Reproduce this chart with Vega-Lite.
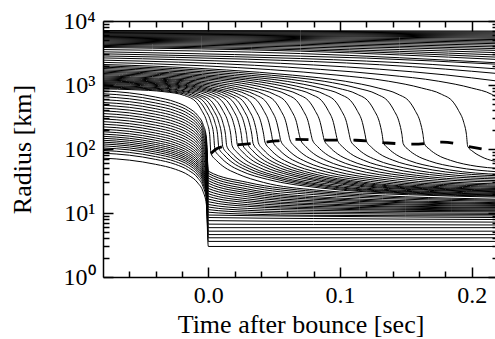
{
"$schema": "https://vega.github.io/schema/vega-lite/v6.json",
"width": 395, "height": 256,
"autosize": {"type": "none"},
"padding": {"left": 103, "top": 21, "right": 0, "bottom": 62},
"background": "white",
"datasets": {
"shock": [
{"t":0.002,"r":85},{"t":0.006,"r":100},{"t":0.012,"r":110},{"t":0.02,"r":116},{"t":0.03,"r":120},{"t":0.045,"r":129},{"t":0.066,"r":141},{"t":0.09,"r":138},{"t":0.112,"r":137},{"t":0.134,"r":125},{"t":0.156,"r":119},{"t":0.178,"r":128},{"t":0.2,"r":107},{"t":0.22,"r":90}
],
"shells": [
{"s":"a1","t":-0.08,"r":72},{"s":"a1","t":-0.06,"r":67},{"s":"a1","t":-0.04,"r":57.6},{"s":"a1","t":-0.025,"r":48.2},{"s":"a1","t":-0.015,"r":38.9},{"s":"a1","t":-0.008,"r":29.5},{"s":"a1","t":-0.004,"r":21.6},{"s":"a1","t":-0.0015,"r":13.7},{"s":"a1","t":0,"r":3.0},{"s":"a1","t":0.22,"r":3.0},
{"s":"a2","t":-0.08,"r":86},{"s":"a2","t":-0.06,"r":80},{"s":"a2","t":-0.04,"r":68.8},{"s":"a2","t":-0.025,"r":57.6},{"s":"a2","t":-0.015,"r":46.4},{"s":"a2","t":-0.008,"r":35.3},{"s":"a2","t":-0.004,"r":25.8},{"s":"a2","t":-0.0015,"r":16.3},{"s":"a2","t":0,"r":3.6},{"s":"a2","t":0.22,"r":3.6},
{"s":"a3","t":-0.08,"r":95},{"s":"a3","t":-0.06,"r":88.4},{"s":"a3","t":-0.04,"r":76},{"s":"a3","t":-0.025,"r":63.7},{"s":"a3","t":-0.015,"r":51.3},{"s":"a3","t":-0.008,"r":39},{"s":"a3","t":-0.004,"r":28.5},{"s":"a3","t":-0.0015,"r":18},{"s":"a3","t":0,"r":4.1},{"s":"a3","t":0.22,"r":4.1},
{"s":"a4","t":-0.08,"r":104},{"s":"a4","t":-0.06,"r":96.7},{"s":"a4","t":-0.04,"r":83.2},{"s":"a4","t":-0.025,"r":69.7},{"s":"a4","t":-0.015,"r":56.2},{"s":"a4","t":-0.008,"r":42.6},{"s":"a4","t":-0.004,"r":31.2},{"s":"a4","t":-0.0015,"r":19.8},{"s":"a4","t":0,"r":4.6},{"s":"a4","t":0.22,"r":4.6},
{"s":"a5","t":-0.08,"r":112},{"s":"a5","t":-0.06,"r":104},{"s":"a5","t":-0.04,"r":89.6},{"s":"a5","t":-0.025,"r":75},{"s":"a5","t":-0.015,"r":60.5},{"s":"a5","t":-0.008,"r":45.9},{"s":"a5","t":-0.004,"r":33.6},{"s":"a5","t":-0.0015,"r":21.3},{"s":"a5","t":0,"r":5.2},{"s":"a5","t":0.22,"r":5.2},
{"s":"a6","t":-0.08,"r":120},{"s":"a6","t":-0.06,"r":111.6},{"s":"a6","t":-0.04,"r":96},{"s":"a6","t":-0.025,"r":80.4},{"s":"a6","t":-0.015,"r":64.8},{"s":"a6","t":-0.008,"r":49.2},{"s":"a6","t":-0.004,"r":36},{"s":"a6","t":-0.0015,"r":22.8},{"s":"a6","t":0,"r":5.9},{"s":"a6","t":0.22,"r":5.9},
{"s":"a7","t":-0.08,"r":128},{"s":"a7","t":-0.06,"r":119},{"s":"a7","t":-0.04,"r":102.4},{"s":"a7","t":-0.025,"r":85.8},{"s":"a7","t":-0.015,"r":69.1},{"s":"a7","t":-0.008,"r":52.5},{"s":"a7","t":-0.004,"r":38.4},{"s":"a7","t":-0.0015,"r":24.3},{"s":"a7","t":0,"r":6.7},{"s":"a7","t":0.08,"r":6.6},{"s":"a7","t":0.22,"r":6.5},
{"s":"a8","t":-0.08,"r":137},{"s":"a8","t":-0.06,"r":127.4},{"s":"a8","t":-0.04,"r":109.6},{"s":"a8","t":-0.025,"r":91.8},{"s":"a8","t":-0.015,"r":74},{"s":"a8","t":-0.008,"r":56.2},{"s":"a8","t":-0.004,"r":41.1},{"s":"a8","t":-0.0015,"r":26},{"s":"a8","t":0,"r":7.6},{"s":"a8","t":0.08,"r":7.4},{"s":"a8","t":0.22,"r":7.2},
{"s":"a9","t":-0.08,"r":147},{"s":"a9","t":-0.06,"r":136.7},{"s":"a9","t":-0.04,"r":117.6},{"s":"a9","t":-0.025,"r":98.5},{"s":"a9","t":-0.015,"r":79.4},{"s":"a9","t":-0.008,"r":60.3},{"s":"a9","t":-0.004,"r":44.1},{"s":"a9","t":-0.0015,"r":27.9},{"s":"a9","t":0,"r":8.5},{"s":"a9","t":0.08,"r":8.2},{"s":"a9","t":0.22,"r":7.9},
{"s":"a10","t":-0.08,"r":158},{"s":"a10","t":-0.06,"r":147},{"s":"a10","t":-0.04,"r":126.4},{"s":"a10","t":-0.025,"r":105.9},{"s":"a10","t":-0.015,"r":85.3},{"s":"a10","t":-0.008,"r":64.8},{"s":"a10","t":-0.004,"r":47.4},{"s":"a10","t":-0.0015,"r":30},{"s":"a10","t":0,"r":9.3},{"s":"a10","t":0.08,"r":8.9},{"s":"a10","t":0.22,"r":8.5},
{"s":"a11","t":-0.08,"r":171},{"s":"a11","t":-0.06,"r":159},{"s":"a11","t":-0.04,"r":136.8},{"s":"a11","t":-0.025,"r":114.6},{"s":"a11","t":-0.015,"r":92.3},{"s":"a11","t":-0.008,"r":70.1},{"s":"a11","t":-0.004,"r":51.3},{"s":"a11","t":-0.0015,"r":32.5},{"s":"a11","t":0,"r":10.3},{"s":"a11","t":0.03,"r":9.6},{"s":"a11","t":0.08,"r":9.2},{"s":"a11","t":0.22,"r":9.0},
{"s":"a12","t":-0.08,"r":186},{"s":"a12","t":-0.06,"r":173},{"s":"a12","t":-0.04,"r":148.8},{"s":"a12","t":-0.025,"r":124.6},{"s":"a12","t":-0.015,"r":100.4},{"s":"a12","t":-0.008,"r":76.3},{"s":"a12","t":-0.004,"r":55.8},{"s":"a12","t":-0.0015,"r":35.3},{"s":"a12","t":0,"r":11.3},{"s":"a12","t":0.03,"r":10.3},{"s":"a12","t":0.08,"r":9.8},{"s":"a12","t":0.22,"r":9.5},
{"s":"a13","t":-0.08,"r":203},{"s":"a13","t":-0.06,"r":188.8},{"s":"a13","t":-0.04,"r":162.4},{"s":"a13","t":-0.025,"r":136},{"s":"a13","t":-0.015,"r":109.6},{"s":"a13","t":-0.008,"r":83.2},{"s":"a13","t":-0.004,"r":60.9},{"s":"a13","t":-0.0015,"r":38.6},{"s":"a13","t":0,"r":12.4},{"s":"a13","t":0.03,"r":11.0},{"s":"a13","t":0.08,"r":10.35},{"s":"a13","t":0.22,"r":9.9},
{"s":"a14","t":-0.08,"r":222},{"s":"a14","t":-0.06,"r":206.5},{"s":"a14","t":-0.04,"r":177.6},{"s":"a14","t":-0.025,"r":148.7},{"s":"a14","t":-0.015,"r":119.9},{"s":"a14","t":-0.008,"r":91},{"s":"a14","t":-0.004,"r":66.6},{"s":"a14","t":-0.0015,"r":42.2},{"s":"a14","t":0,"r":13.6},{"s":"a14","t":0.03,"r":11.8},{"s":"a14","t":0.08,"r":11.0},{"s":"a14","t":0.22,"r":10.4},
{"s":"a15","t":-0.08,"r":244},{"s":"a15","t":-0.06,"r":227},{"s":"a15","t":-0.04,"r":195.2},{"s":"a15","t":-0.025,"r":163.5},{"s":"a15","t":-0.015,"r":131.8},{"s":"a15","t":-0.008,"r":100},{"s":"a15","t":-0.004,"r":73.2},{"s":"a15","t":-0.0015,"r":46.4},{"s":"a15","t":0,"r":15.0},{"s":"a15","t":0.03,"r":12.7},{"s":"a15","t":0.08,"r":11.6},{"s":"a15","t":0.22,"r":10.8},
{"s":"a16","t":-0.08,"r":268},{"s":"a16","t":-0.06,"r":249},{"s":"a16","t":-0.04,"r":214.4},{"s":"a16","t":-0.025,"r":179.6},{"s":"a16","t":-0.015,"r":144.7},{"s":"a16","t":-0.008,"r":109.9},{"s":"a16","t":-0.004,"r":80.4},{"s":"a16","t":-0.0015,"r":50.9},{"s":"a16","t":0,"r":16.5},{"s":"a16","t":0.03,"r":13.5},{"s":"a16","t":0.08,"r":12.1},{"s":"a16","t":0.22,"r":11.1},
{"s":"a17","t":-0.08,"r":295},{"s":"a17","t":-0.06,"r":274},{"s":"a17","t":-0.04,"r":236},{"s":"a17","t":-0.025,"r":197.7},{"s":"a17","t":-0.015,"r":159.3},{"s":"a17","t":-0.008,"r":121},{"s":"a17","t":-0.004,"r":88.5},{"s":"a17","t":-0.0015,"r":56},{"s":"a17","t":0,"r":18.2},{"s":"a17","t":0.03,"r":14.5},{"s":"a17","t":0.08,"r":12.7},{"s":"a17","t":0.22,"r":11.5},
{"s":"a18","t":-0.08,"r":325},{"s":"a18","t":-0.06,"r":302},{"s":"a18","t":-0.04,"r":260},{"s":"a18","t":-0.025,"r":217.8},{"s":"a18","t":-0.015,"r":175.5},{"s":"a18","t":-0.008,"r":133},{"s":"a18","t":-0.004,"r":97.5},{"s":"a18","t":-0.0015,"r":61.8},{"s":"a18","t":0,"r":20.0},{"s":"a18","t":0.03,"r":15.5},{"s":"a18","t":0.08,"r":13.4},{"s":"a18","t":0.22,"r":11.9},
{"s":"a19","t":-0.08,"r":358},{"s":"a19","t":-0.06,"r":333},{"s":"a19","t":-0.04,"r":286.4},{"s":"a19","t":-0.025,"r":239.9},{"s":"a19","t":-0.015,"r":193.3},{"s":"a19","t":-0.008,"r":146.8},{"s":"a19","t":-0.004,"r":107.4},{"s":"a19","t":-0.0015,"r":68},{"s":"a19","t":0,"r":22.0},{"s":"a19","t":0.03,"r":16.6},{"s":"a19","t":0.08,"r":14.0},{"s":"a19","t":0.22,"r":12.2},
{"s":"a20","t":-0.08,"r":395},{"s":"a20","t":-0.06,"r":367},{"s":"a20","t":-0.04,"r":316},{"s":"a20","t":-0.025,"r":264.7},{"s":"a20","t":-0.015,"r":213.3},{"s":"a20","t":-0.008,"r":162},{"s":"a20","t":-0.004,"r":118.5},{"s":"a20","t":-0.0015,"r":75},{"s":"a20","t":0,"r":24.2},{"s":"a20","t":0.03,"r":17.9},{"s":"a20","t":0.08,"r":14.8},{"s":"a20","t":0.22,"r":12.7},
{"s":"a21","t":-0.08,"r":436},{"s":"a21","t":-0.06,"r":405},{"s":"a21","t":-0.04,"r":348.8},{"s":"a21","t":-0.025,"r":292},{"s":"a21","t":-0.015,"r":235.4},{"s":"a21","t":-0.008,"r":178.8},{"s":"a21","t":-0.004,"r":130.8},{"s":"a21","t":-0.0015,"r":82.8},{"s":"a21","t":0,"r":26.6},{"s":"a21","t":0.03,"r":19.2},{"s":"a21","t":0.08,"r":15.5},{"s":"a21","t":0.22,"r":13.1},
{"s":"a22","t":-0.08,"r":482},{"s":"a22","t":-0.06,"r":448},{"s":"a22","t":-0.04,"r":385.6},{"s":"a22","t":-0.025,"r":323},{"s":"a22","t":-0.015,"r":260.3},{"s":"a22","t":-0.008,"r":197.6},{"s":"a22","t":-0.004,"r":144.6},{"s":"a22","t":-0.0015,"r":91.6},{"s":"a22","t":0,"r":29.2},{"s":"a22","t":0.03,"r":20.6},{"s":"a22","t":0.08,"r":16.4},{"s":"a22","t":0.22,"r":13.6},
{"s":"a23","t":-0.08,"r":533},{"s":"a23","t":-0.06,"r":496},{"s":"a23","t":-0.04,"r":426.4},{"s":"a23","t":-0.025,"r":357},{"s":"a23","t":-0.015,"r":287.8},{"s":"a23","t":-0.008,"r":218.5},{"s":"a23","t":-0.004,"r":160},{"s":"a23","t":-0.0015,"r":101.3},{"s":"a23","t":0,"r":32.0},{"s":"a23","t":0.03,"r":22.1},{"s":"a23","t":0.08,"r":17.2},{"s":"a23","t":0.22,"r":14.0},
{"s":"a24","t":-0.08,"r":590},{"s":"a24","t":-0.06,"r":549},{"s":"a24","t":-0.04,"r":472},{"s":"a24","t":-0.025,"r":395.3},{"s":"a24","t":-0.015,"r":318.6},{"s":"a24","t":-0.008,"r":241.9},{"s":"a24","t":-0.004,"r":177},{"s":"a24","t":-0.0015,"r":112.1},{"s":"a24","t":0,"r":35.0},{"s":"a24","t":0.03,"r":23.7},{"s":"a24","t":0.08,"r":18.1},{"s":"a24","t":0.22,"r":14.5},
{"s":"a25","t":-0.08,"r":655},{"s":"a25","t":-0.06,"r":609},{"s":"a25","t":-0.04,"r":524},{"s":"a25","t":-0.025,"r":438.9},{"s":"a25","t":-0.015,"r":353.7},{"s":"a25","t":-0.008,"r":268.6},{"s":"a25","t":-0.004,"r":196.5},{"s":"a25","t":-0.0015,"r":124.5},{"s":"a25","t":0,"r":38.2},{"s":"a25","t":0.03,"r":25.7},{"s":"a25","t":0.08,"r":19.4},{"s":"a25","t":0.22,"r":15.2},
{"s":"a26","t":-0.08,"r":730},{"s":"a26","t":-0.06,"r":679},{"s":"a26","t":-0.04,"r":584},{"s":"a26","t":-0.025,"r":489},{"s":"a26","t":-0.015,"r":394},{"s":"a26","t":-0.008,"r":299},{"s":"a26","t":-0.004,"r":219},{"s":"a26","t":-0.0015,"r":138.7},{"s":"a26","t":0,"r":41.6},{"s":"a26","t":0.03,"r":27.8},{"s":"a26","t":0.08,"r":20.6},{"s":"a26","t":0.22,"r":15.8},
{"s":"a27","t":-0.08,"r":810},{"s":"a27","t":-0.06,"r":753},{"s":"a27","t":-0.04,"r":648},{"s":"a27","t":-0.025,"r":542.7},{"s":"a27","t":-0.015,"r":437.4},{"s":"a27","t":-0.008,"r":332},{"s":"a27","t":-0.004,"r":243},{"s":"a27","t":-0.0015,"r":154},{"s":"a27","t":0,"r":45.0},{"s":"a27","t":0.03,"r":30.0},{"s":"a27","t":0.08,"r":21.8},{"s":"a27","t":0.22,"r":16.4},
{"s":"b1","t":-0.08,"r":868},{"s":"b1","t":-0.058,"r":846},{"s":"b1","t":-0.033,"r":783},{"s":"b1","t":-0.018,"r":684},{"s":"b1","t":-0.009,"r":534},{"s":"b1","t":-0.005,"r":399},{"s":"b1","t":-0.001,"r":260},{"s":"b1","t":0.001,"r":170},{"s":"b1","t":0.002,"r":85},{"s":"b1","t":0.006,"r":66.7},{"s":"b1","t":0.012,"r":52.2},{"s":"b1","t":0.022,"r":41.0},{"s":"b1","t":0.042,"r":30.0},{"s":"b1","t":0.082,"r":22.8},{"s":"b1","t":0.152,"r":19.3},{"s":"b1","t":0.22,"r":17.7},
{"s":"b2","t":-0.08,"r":896},{"s":"b2","t":-0.055,"r":869},{"s":"b2","t":-0.03,"r":794},{"s":"b2","t":-0.015,"r":690},{"s":"b2","t":-0.006,"r":535},{"s":"b2","t":-0.002,"r":400},{"s":"b2","t":0.002,"r":260},{"s":"b2","t":0.004,"r":170},{"s":"b2","t":0.005,"r":97},{"s":"b2","t":0.009,"r":75.4},{"s":"b2","t":0.015,"r":58.4},{"s":"b2","t":0.025,"r":45.2},{"s":"b2","t":0.045,"r":33.5},{"s":"b2","t":0.085,"r":24.6},{"s":"b2","t":0.155,"r":19.9},{"s":"b2","t":0.22,"r":18.3},
{"s":"b3","t":-0.08,"r":925},{"s":"b3","t":-0.052,"r":890},{"s":"b3","t":-0.027,"r":806},{"s":"b3","t":-0.012,"r":693},{"s":"b3","t":-0.003,"r":536},{"s":"b3","t":0.001,"r":400},{"s":"b3","t":0.005,"r":260},{"s":"b3","t":0.007,"r":170},{"s":"b3","t":0.008,"r":104},{"s":"b3","t":0.012,"r":80.5},{"s":"b3","t":0.018,"r":62.1},{"s":"b3","t":0.028,"r":47.7},{"s":"b3","t":0.048,"r":35.0},{"s":"b3","t":0.088,"r":25.3},{"s":"b3","t":0.158,"r":20.3},{"s":"b3","t":0.22,"r":18.7},
{"s":"b4","t":-0.08,"r":953},{"s":"b4","t":-0.049,"r":909},{"s":"b4","t":-0.024,"r":821},{"s":"b4","t":-0.009,"r":698},{"s":"b4","t":0,"r":537},{"s":"b4","t":0.004,"r":400},{"s":"b4","t":0.008,"r":260},{"s":"b4","t":0.01,"r":170},{"s":"b4","t":0.011,"r":108},{"s":"b4","t":0.015,"r":83.5},{"s":"b4","t":0.021,"r":64.3},{"s":"b4","t":0.031,"r":49.3},{"s":"b4","t":0.051,"r":36.0},{"s":"b4","t":0.091,"r":26.0},{"s":"b4","t":0.161,"r":20.8},{"s":"b4","t":0.22,"r":19.1},
{"s":"b5","t":-0.08,"r":980},{"s":"b5","t":-0.046,"r":930},{"s":"b5","t":-0.021,"r":829},{"s":"b5","t":-0.006,"r":701},{"s":"b5","t":0.003,"r":538},{"s":"b5","t":0.007,"r":400},{"s":"b5","t":0.011,"r":260},{"s":"b5","t":0.013,"r":170},{"s":"b5","t":0.014,"r":111},{"s":"b5","t":0.018,"r":85.8},{"s":"b5","t":0.024,"r":66.0},{"s":"b5","t":0.034,"r":50.6},{"s":"b5","t":0.054,"r":36.9},{"s":"b5","t":0.094,"r":26.5},{"s":"b5","t":0.164,"r":21.2},{"s":"b5","t":0.22,"r":19.6},
{"s":"b6","t":-0.08,"r":1017},{"s":"b6","t":-0.042,"r":955},{"s":"b6","t":-0.017,"r":840},{"s":"b6","t":-0.002,"r":704},{"s":"b6","t":0.007,"r":540},{"s":"b6","t":0.011,"r":400},{"s":"b6","t":0.015,"r":260},{"s":"b6","t":0.017,"r":170},{"s":"b6","t":0.018,"r":114},{"s":"b6","t":0.022,"r":88.1},{"s":"b6","t":0.028,"r":67.8},{"s":"b6","t":0.038,"r":52.0},{"s":"b6","t":0.058,"r":37.8},{"s":"b6","t":0.098,"r":27.2},{"s":"b6","t":0.168,"r":21.7},{"s":"b6","t":0.22,"r":20.2},
{"s":"b7","t":-0.08,"r":1053},{"s":"b7","t":-0.038,"r":978},{"s":"b7","t":-0.013,"r":850},{"s":"b7","t":0.002,"r":707},{"s":"b7","t":0.011,"r":540},{"s":"b7","t":0.015,"r":400},{"s":"b7","t":0.019,"r":260},{"s":"b7","t":0.021,"r":170},{"s":"b7","t":0.022,"r":117},{"s":"b7","t":0.026,"r":90.5},{"s":"b7","t":0.032,"r":69.6},{"s":"b7","t":0.042,"r":53.3},{"s":"b7","t":0.062,"r":38.9},{"s":"b7","t":0.102,"r":28.0},{"s":"b7","t":0.172,"r":22.4},{"s":"b7","t":0.22,"r":20.9},
{"s":"b8","t":-0.08,"r":1090},{"s":"b8","t":-0.034,"r":998},{"s":"b8","t":-0.009,"r":857},{"s":"b8","t":0.006,"r":709},{"s":"b8","t":0.015,"r":540},{"s":"b8","t":0.019,"r":400},{"s":"b8","t":0.023,"r":260},{"s":"b8","t":0.025,"r":170},{"s":"b8","t":0.026,"r":118},{"s":"b8","t":0.03,"r":91.3},{"s":"b8","t":0.036,"r":70.3},{"s":"b8","t":0.046,"r":54.0},{"s":"b8","t":0.066,"r":39.4},{"s":"b8","t":0.106,"r":28.5},{"s":"b8","t":0.176,"r":22.8},{"s":"b8","t":0.22,"r":21.5},
{"s":"b9","t":-0.08,"r":1126},{"s":"b9","t":-0.07,"r":1110},{"s":"b9","t":-0.03,"r":1015},{"s":"b9","t":-0.005,"r":864},{"s":"b9","t":0.01,"r":711},{"s":"b9","t":0.019,"r":540},{"s":"b9","t":0.023,"r":400},{"s":"b9","t":0.027,"r":260},{"s":"b9","t":0.029,"r":170},{"s":"b9","t":0.03,"r":120},{"s":"b9","t":0.034,"r":92.9},{"s":"b9","t":0.04,"r":71.5},{"s":"b9","t":0.05,"r":55.0},{"s":"b9","t":0.07,"r":40.2},{"s":"b9","t":0.11,"r":29.1},{"s":"b9","t":0.18,"r":23.3},{"s":"b9","t":0.22,"r":22.1},
{"s":"b10","t":-0.08,"r":1162},{"s":"b10","t":-0.066,"r":1138},{"s":"b10","t":-0.026,"r":1030},{"s":"b10","t":-0.001,"r":869},{"s":"b10","t":0.014,"r":713},{"s":"b10","t":0.023,"r":540},{"s":"b10","t":0.027,"r":400},{"s":"b10","t":0.031,"r":260},{"s":"b10","t":0.033,"r":170},{"s":"b10","t":0.034,"r":122},{"s":"b10","t":0.038,"r":94.5},{"s":"b10","t":0.044,"r":72.8},{"s":"b10","t":0.054,"r":56.0},{"s":"b10","t":0.074,"r":41.0},{"s":"b10","t":0.114,"r":29.7},{"s":"b10","t":0.184,"r":23.8},{"s":"b10","t":0.22,"r":22.7},
{"s":"b11","t":-0.08,"r":1197},{"s":"b11","t":-0.062,"r":1165},{"s":"b11","t":-0.022,"r":1049},{"s":"b11","t":0.003,"r":875},{"s":"b11","t":0.018,"r":714},{"s":"b11","t":0.027,"r":540},{"s":"b11","t":0.031,"r":400},{"s":"b11","t":0.035,"r":260},{"s":"b11","t":0.037,"r":170},{"s":"b11","t":0.038,"r":125},{"s":"b11","t":0.042,"r":96.8},{"s":"b11","t":0.048,"r":74.5},{"s":"b11","t":0.058,"r":57.3},{"s":"b11","t":0.078,"r":41.9},{"s":"b11","t":0.118,"r":30.3},{"s":"b11","t":0.188,"r":24.3},{"s":"b11","t":0.22,"r":23.3},
{"s":"b12","t":-0.08,"r":1241},{"s":"b12","t":-0.057,"r":1196},{"s":"b12","t":-0.017,"r":1064},{"s":"b12","t":0.008,"r":879},{"s":"b12","t":0.023,"r":714},{"s":"b12","t":0.032,"r":540},{"s":"b12","t":0.036,"r":400},{"s":"b12","t":0.04,"r":260},{"s":"b12","t":0.042,"r":170},{"s":"b12","t":0.043,"r":128},{"s":"b12","t":0.047,"r":99.1},{"s":"b12","t":0.053,"r":76.4},{"s":"b12","t":0.063,"r":58.8},{"s":"b12","t":0.083,"r":43.0},{"s":"b12","t":0.123,"r":31.2},{"s":"b12","t":0.193,"r":25.0},{"s":"b12","t":0.22,"r":24.1},
{"s":"b13","t":-0.08,"r":1286},{"s":"b13","t":-0.051,"r":1226},{"s":"b13","t":-0.011,"r":1076},{"s":"b13","t":0.014,"r":883},{"s":"b13","t":0.029,"r":715},{"s":"b13","t":0.038,"r":540},{"s":"b13","t":0.042,"r":400},{"s":"b13","t":0.046,"r":260},{"s":"b13","t":0.048,"r":170},{"s":"b13","t":0.049,"r":131},{"s":"b13","t":0.053,"r":101.5},{"s":"b13","t":0.059,"r":78.3},{"s":"b13","t":0.069,"r":60.3},{"s":"b13","t":0.089,"r":44.2},{"s":"b13","t":0.129,"r":32.1},{"s":"b13","t":0.199,"r":25.8},{"s":"b13","t":0.22,"r":25.1},
{"s":"b14","t":-0.08,"r":1336},{"s":"b14","t":-0.045,"r":1256},{"s":"b14","t":-0.005,"r":1089},{"s":"b14","t":0.02,"r":886},{"s":"b14","t":0.035,"r":715},{"s":"b14","t":0.044,"r":540},{"s":"b14","t":0.048,"r":400},{"s":"b14","t":0.052,"r":260},{"s":"b14","t":0.054,"r":170},{"s":"b14","t":0.055,"r":135},{"s":"b14","t":0.059,"r":104.6},{"s":"b14","t":0.065,"r":80.7},{"s":"b14","t":0.075,"r":62.2},{"s":"b14","t":0.095,"r":45.6},{"s":"b14","t":0.135,"r":33.1},{"s":"b14","t":0.205,"r":26.6},{"s":"b14","t":0.22,"r":26.1},
{"s":"b15","t":-0.08,"r":1389},{"s":"b15","t":-0.038,"r":1280},{"s":"b15","t":0.002,"r":1098},{"s":"b15","t":0.027,"r":889},{"s":"b15","t":0.042,"r":716},{"s":"b15","t":0.051,"r":540},{"s":"b15","t":0.055,"r":400},{"s":"b15","t":0.059,"r":260},{"s":"b15","t":0.061,"r":170},{"s":"b15","t":0.062,"r":139},{"s":"b15","t":0.066,"r":107.8},{"s":"b15","t":0.072,"r":83.2},{"s":"b15","t":0.082,"r":64.0},{"s":"b15","t":0.102,"r":47.0},{"s":"b15","t":0.142,"r":34.1},{"s":"b15","t":0.212,"r":27.5},{"s":"b15","t":0.22,"r":27.2},
{"s":"b16","t":-0.08,"r":1450},{"s":"b16","t":-0.03,"r":1309},{"s":"b16","t":0.01,"r":1110},{"s":"b16","t":0.035,"r":891},{"s":"b16","t":0.05,"r":716},{"s":"b16","t":0.059,"r":540},{"s":"b16","t":0.063,"r":400},{"s":"b16","t":0.067,"r":260},{"s":"b16","t":0.069,"r":170},{"s":"b16","t":0.07,"r":141},{"s":"b16","t":0.074,"r":109.4},{"s":"b16","t":0.08,"r":84.6},{"s":"b16","t":0.09,"r":65.4},{"s":"b16","t":0.11,"r":48.2},{"s":"b16","t":0.15,"r":35.1},{"s":"b16","t":0.22,"r":28.4},
{"s":"b17","t":-0.08,"r":1512},{"s":"b17","t":-0.021,"r":1334},{"s":"b17","t":0.019,"r":1118},{"s":"b17","t":0.044,"r":893},{"s":"b17","t":0.059,"r":717},{"s":"b17","t":0.068,"r":540},{"s":"b17","t":0.072,"r":400},{"s":"b17","t":0.076,"r":260},{"s":"b17","t":0.078,"r":170},{"s":"b17","t":0.079,"r":140},{"s":"b17","t":0.083,"r":109.1},{"s":"b17","t":0.089,"r":84.7},{"s":"b17","t":0.099,"r":65.8},{"s":"b17","t":0.119,"r":48.9},{"s":"b17","t":0.159,"r":36.0},{"s":"b17","t":0.22,"r":30.3},
{"s":"b18","t":-0.08,"r":1583},{"s":"b18","t":-0.062,"r":1537},{"s":"b18","t":-0.012,"r":1354},{"s":"b18","t":0.028,"r":1125},{"s":"b18","t":0.053,"r":894},{"s":"b18","t":0.068,"r":717},{"s":"b18","t":0.077,"r":540},{"s":"b18","t":0.081,"r":400},{"s":"b18","t":0.085,"r":260},{"s":"b18","t":0.087,"r":170},{"s":"b18","t":0.088,"r":138},{"s":"b18","t":0.092,"r":107.9},{"s":"b18","t":0.098,"r":84.2},{"s":"b18","t":0.108,"r":65.8},{"s":"b18","t":0.128,"r":49.4},{"s":"b18","t":0.168,"r":36.8},{"s":"b18","t":0.22,"r":32.0},
{"s":"b19","t":-0.08,"r":1651},{"s":"b19","t":-0.052,"r":1572},{"s":"b19","t":-0.002,"r":1372},{"s":"b19","t":0.038,"r":1129},{"s":"b19","t":0.063,"r":895},{"s":"b19","t":0.078,"r":717},{"s":"b19","t":0.087,"r":540},{"s":"b19","t":0.091,"r":400},{"s":"b19","t":0.095,"r":260},{"s":"b19","t":0.097,"r":170},{"s":"b19","t":0.098,"r":138},{"s":"b19","t":0.102,"r":108.2},{"s":"b19","t":0.108,"r":84.8},{"s":"b19","t":0.118,"r":66.6},{"s":"b19","t":0.138,"r":50.3},{"s":"b19","t":0.178,"r":37.9},{"s":"b19","t":0.22,"r":34.0},
{"s":"b20","t":-0.08,"r":1725},{"s":"b20","t":-0.042,"r":1607},{"s":"b20","t":0.008,"r":1386},{"s":"b20","t":0.048,"r":1134},{"s":"b20","t":0.073,"r":895},{"s":"b20","t":0.088,"r":718},{"s":"b20","t":0.097,"r":540},{"s":"b20","t":0.101,"r":400},{"s":"b20","t":0.105,"r":260},{"s":"b20","t":0.107,"r":170},{"s":"b20","t":0.108,"r":137},{"s":"b20","t":0.112,"r":107.9},{"s":"b20","t":0.118,"r":84.9},{"s":"b20","t":0.128,"r":67.1},{"s":"b20","t":0.148,"r":51.1},{"s":"b20","t":0.188,"r":38.9},{"s":"b20","t":0.22,"r":36.0},
{"s":"b21","t":-0.08,"r":1810},{"s":"b21","t":-0.03,"r":1645},{"s":"b21","t":0.02,"r":1400},{"s":"b21","t":0.06,"r":1137},{"s":"b21","t":0.085,"r":896},{"s":"b21","t":0.1,"r":718},{"s":"b21","t":0.109,"r":540},{"s":"b21","t":0.113,"r":400},{"s":"b21","t":0.117,"r":260},{"s":"b21","t":0.119,"r":170},{"s":"b21","t":0.12,"r":134},{"s":"b21","t":0.124,"r":106.1},{"s":"b21","t":0.13,"r":84.2},{"s":"b21","t":0.14,"r":67.1},{"s":"b21","t":0.16,"r":51.8},{"s":"b21","t":0.2,"r":40.0},{"s":"b21","t":0.22,"r":38.2},
{"s":"b22","t":-0.08,"r":1894},{"s":"b22","t":-0.067,"r":1862},{"s":"b22","t":-0.017,"r":1670},{"s":"b22","t":0.033,"r":1411},{"s":"b22","t":0.073,"r":1140},{"s":"b22","t":0.098,"r":896},{"s":"b22","t":0.113,"r":718},{"s":"b22","t":0.122,"r":540},{"s":"b22","t":0.126,"r":400},{"s":"b22","t":0.13,"r":260},{"s":"b22","t":0.132,"r":170},{"s":"b22","t":0.133,"r":126},{"s":"b22","t":0.137,"r":100.8},{"s":"b22","t":0.143,"r":80.9},{"s":"b22","t":0.153,"r":65.4},{"s":"b22","t":0.173,"r":51.5},{"s":"b22","t":0.213,"r":40.8},{"s":"b22","t":0.22,"r":40.3},
{"s":"b23","t":-0.08,"r":1989},{"s":"b23","t":-0.052,"r":1902},{"s":"b23","t":-0.002,"r":1697},{"s":"b23","t":0.048,"r":1420},{"s":"b23","t":0.088,"r":1143},{"s":"b23","t":0.113,"r":896},{"s":"b23","t":0.128,"r":718},{"s":"b23","t":0.137,"r":540},{"s":"b23","t":0.141,"r":400},{"s":"b23","t":0.145,"r":260},{"s":"b23","t":0.147,"r":170},{"s":"b23","t":0.148,"r":121},{"s":"b23","t":0.152,"r":97.6},{"s":"b23","t":0.158,"r":79.3},{"s":"b23","t":0.168,"r":64.9},{"s":"b23","t":0.188,"r":52.0},{"s":"b23","t":0.22,"r":44.0},
{"s":"b24","t":-0.08,"r":2091},{"s":"b24","t":-0.036,"r":1948},{"s":"b24","t":0.014,"r":1715},{"s":"b24","t":0.064,"r":1425},{"s":"b24","t":0.104,"r":1144},{"s":"b24","t":0.129,"r":897},{"s":"b24","t":0.144,"r":718},{"s":"b24","t":0.153,"r":540},{"s":"b24","t":0.157,"r":400},{"s":"b24","t":0.161,"r":260},{"s":"b24","t":0.163,"r":170},{"s":"b24","t":0.164,"r":122},{"s":"b24","t":0.168,"r":98.9},{"s":"b24","t":0.174,"r":80.7},{"s":"b24","t":0.184,"r":66.4},{"s":"b24","t":0.204,"r":53.6},{"s":"b24","t":0.22,"r":49.7},
{"s":"b25","t":-0.08,"r":2259},{"s":"b25","t":-0.003,"r":1993},{"s":"b25","t":0.047,"r":1739},{"s":"b25","t":0.097,"r":1433},{"s":"b25","t":0.137,"r":1145},{"s":"b25","t":0.162,"r":897},{"s":"b25","t":0.177,"r":718},{"s":"b25","t":0.186,"r":540},{"s":"b25","t":0.19,"r":400},{"s":"b25","t":0.194,"r":260},{"s":"b25","t":0.196,"r":170},{"s":"b25","t":0.197,"r":110},{"s":"b25","t":0.201,"r":91.2},{"s":"b25","t":0.207,"r":76.4},{"s":"b25","t":0.217,"r":64.8},{"s":"b25","t":0.22,"r":63.3},
{"s":"c1","t":-0.08,"r":2446},{"s":"c1","t":0.035,"r":2032},{"s":"c1","t":0.085,"r":1755},{"s":"c1","t":0.135,"r":1437},{"s":"c1","t":0.175,"r":1145},{"s":"c1","t":0.2,"r":897},{"s":"c1","t":0.215,"r":718},{"s":"c1","t":0.22,"r":620},
{"s":"c2","t":-0.08,"r":2650},{"s":"c2","t":-0.02,"r":2475},{"s":"c2","t":0.08,"r":2055},{"s":"c2","t":0.13,"r":1766},{"s":"c2","t":0.18,"r":1440},{"s":"c2","t":0.22,"r":1150},
{"s":"c3","t":-0.08,"r":2843},{"s":"c3","t":0.03,"r":2528},{"s":"c3","t":0.13,"r":2075},{"s":"c3","t":0.18,"r":1773},{"s":"c3","t":0.22,"r":1509},
{"s":"c4","t":-0.08,"r":3069},{"s":"c4","t":-0.03,"r":2919},{"s":"c4","t":0.07,"r":2593},{"s":"c4","t":0.17,"r":2094},{"s":"c4","t":0.22,"r":1780},
{"s":"c5","t":-0.08,"r":3302},{"s":"c5","t":0.02,"r":2988},{"s":"c5","t":0.12,"r":2632},{"s":"c5","t":0.22,"r":2107},
{"s":"c6","t":-0.08,"r":3575},{"s":"c6","t":0.07,"r":3100},{"s":"c6","t":0.22,"r":2217},
{"s":"c7","t":-0.08,"r":3850},{"s":"c7","t":0.07,"r":3378},{"s":"c7","t":0.22,"r":2503},
{"s":"c8","t":-0.08,"r":4000},{"s":"c8","t":0.07,"r":3552},{"s":"c8","t":0.22,"r":2720},
{"s":"c9","t":-0.08,"r":4150},{"s":"c9","t":0.07,"r":3729},{"s":"c9","t":0.22,"r":2947},
{"s":"c10","t":-0.08,"r":4325},{"s":"c10","t":0.07,"r":3931},{"s":"c10","t":0.22,"r":3201},
{"s":"c11","t":-0.08,"r":4500},{"s":"c11","t":0.07,"r":4138},{"s":"c11","t":0.22,"r":3465},
{"s":"c12","t":-0.08,"r":4675},{"s":"c12","t":0.07,"r":4331},{"s":"c12","t":0.22,"r":3693},
{"s":"c13","t":-0.08,"r":4850},{"s":"c13","t":0.07,"r":4527},{"s":"c13","t":0.22,"r":3929},
{"s":"c14","t":-0.08,"r":5025},{"s":"c14","t":0.07,"r":4726},{"s":"c14","t":0.22,"r":4171},
{"s":"c15","t":-0.08,"r":5200},{"s":"c15","t":0.07,"r":4927},{"s":"c15","t":0.22,"r":4420},
{"s":"c16","t":-0.08,"r":5375},{"s":"c16","t":0.07,"r":5122},{"s":"c16","t":0.22,"r":4649},
{"s":"c17","t":-0.08,"r":5550},{"s":"c17","t":0.07,"r":5317},{"s":"c17","t":0.22,"r":4884},
{"s":"c18","t":-0.08,"r":5725},{"s":"c18","t":0.07,"r":5513},{"s":"c18","t":0.22,"r":5124},
{"s":"c19","t":-0.08,"r":5900},{"s":"c19","t":0.07,"r":5714},{"s":"c19","t":0.22,"r":5369},
{"s":"c20","t":-0.08,"r":6075},{"s":"c20","t":0.07,"r":5905},{"s":"c20","t":0.22,"r":5589},
{"s":"c21","t":-0.08,"r":6250},{"s":"c21","t":0.07,"r":6097},{"s":"c21","t":0.22,"r":5813},
{"s":"c22","t":-0.08,"r":6425},{"s":"c22","t":0.07,"r":6290},{"s":"c22","t":0.22,"r":6040},
{"s":"c23","t":-0.08,"r":6600},{"s":"c23","t":0.07,"r":6485},{"s":"c23","t":0.22,"r":6270},
{"s":"c24","t":-0.08,"r":6775},{"s":"c24","t":0.07,"r":6680},{"s":"c24","t":0.22,"r":6504},
{"s":"c25","t":-0.08,"r":6950},{"s":"c25","t":0.07,"r":6877},{"s":"c25","t":0.22,"r":6742},
{"s":"c26","t":-0.08,"r":7100},{"s":"c26","t":0.07,"r":7050},{"s":"c26","t":0.22,"r":6958}
]
},
"layer": [
{"data": {"name": "shells"},
 "mark": {"type": "line", "interpolate": "monotone", "strokeWidth": 1, "color": "#000", "clip": true},
 "encoding": {
  "x": {"field": "t", "type": "quantitative", "scale": {"domain": [-0.08, 0.22], "nice": false, "zero": false},
        "axis": {"orient": "bottom", "values": [0, 0.1, 0.2], "format": ".1f", "title": "Time after bounce [sec]", "tickSize": -10, "labelPadding": 16, "titlePadding": 4, "domain": true}},
  "y": {"field": "r", "type": "quantitative", "scale": {"type": "log", "domain": [1, 10000], "nice": false},
        "axis": {"orient": "left", "values": [1, 10, 100, 1000, 10000], "labelExpr": "datum.value >= 10000 ? '10⁴' : datum.value >= 1000 ? '10³' : datum.value >= 100 ? '10²' : datum.value >= 10 ? '10¹' : '10⁰'", "title": "Radius [km]", "tickSize": -10, "labelPadding": 18, "titlePadding": 27, "domain": true}},
  "detail": {"field": "s", "type": "nominal"}
 }},
{"data": {"name": "shock"},
 "mark": {"type": "line", "interpolate": "monotone", "strokeWidth": 2.8, "strokeDash": [13, 16], "color": "#000", "clip": true},
 "encoding": {
  "x": {"field": "t", "type": "quantitative", "scale": {"domain": [-0.08, 0.22], "nice": false, "zero": false},
        "axis": {"orient": "bottom", "values": [-0.06, -0.04, -0.02, 0.02, 0.04, 0.06, 0.08, 0.12, 0.14, 0.16, 0.18], "labels": false, "title": null, "domain": false, "tickSize": -6}},
  "y": {"field": "r", "type": "quantitative", "scale": {"type": "log", "domain": [1, 10000], "nice": false},
        "axis": {"orient": "left", "values": [2,3,4,5,6,7,8,9,20,30,40,50,60,70,80,90,200,300,400,500,600,700,800,900,2000,3000,4000,5000,6000,7000,8000,9000], "labels": false, "title": null, "domain": false, "tickSize": -6}}
 }},
{"data": {"name": "shock"},
 "mark": {"type": "point", "opacity": 0},
 "encoding": {
  "x": {"field": "t", "type": "quantitative", "scale": {"domain": [-0.08, 0.22], "nice": false, "zero": false},
        "axis": {"orient": "top", "values": [0, 0.1, 0.2], "labels": false, "title": null, "domain": true, "tickSize": -10}},
  "y": {"field": "r", "type": "quantitative", "scale": {"type": "log", "domain": [1, 10000], "nice": false},
        "axis": {"orient": "right", "values": [1, 10, 100, 1000, 10000], "labels": false, "title": null, "domain": true, "tickSize": -10}}
 }},
{"data": {"name": "shock"},
 "mark": {"type": "point", "opacity": 0},
 "encoding": {
  "x": {"field": "t", "type": "quantitative", "scale": {"domain": [-0.08, 0.22], "nice": false, "zero": false},
        "axis": {"orient": "top", "values": [-0.06, -0.04, -0.02, 0.02, 0.04, 0.06, 0.08, 0.12, 0.14, 0.16, 0.18], "labels": false, "title": null, "domain": false, "tickSize": -6}},
  "y": {"field": "r", "type": "quantitative", "scale": {"type": "log", "domain": [1, 10000], "nice": false},
        "axis": {"orient": "right", "values": [2,3,4,5,6,7,8,9,20,30,40,50,60,70,80,90,200,300,400,500,600,700,800,900,2000,3000,4000,5000,6000,7000,8000,9000], "labels": false, "title": null, "domain": false, "tickSize": -6}}
 }}
],
"resolve": {"axis": {"x": "independent", "y": "independent"}},
"config": {
 "view": {"stroke": null},
 "axis": {"labelFont": "Liberation Serif", "titleFont": "Liberation Serif", "labelFontSize": 24, "titleFontSize": 26, "titleFontWeight": "normal", "labelColor": "#000", "titleColor": "#000", "domainColor": "#000", "tickColor": "#000", "domainWidth": 1.5, "tickWidth": 1.5, "grid": false, "labelOverlap": false, "labelFlush": false}
}
}
